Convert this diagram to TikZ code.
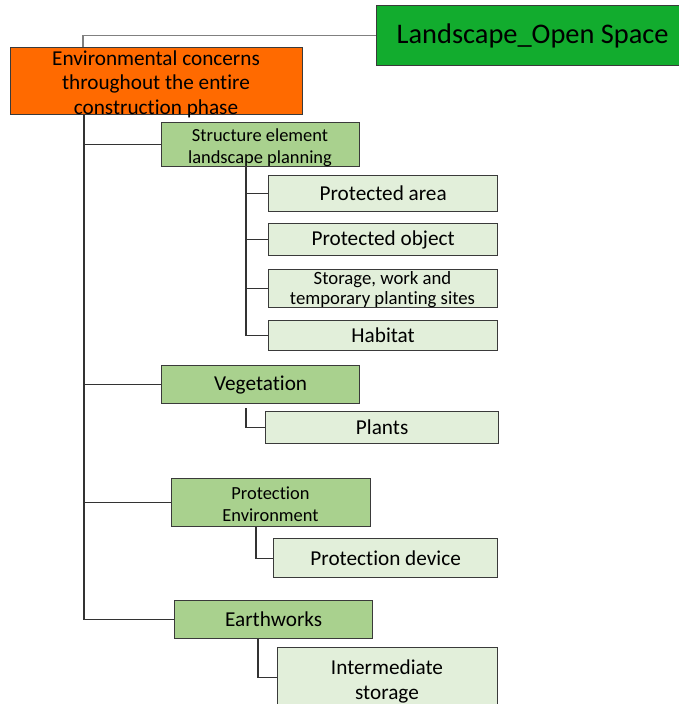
\documentclass[tikz,border=0pt]{standalone}
\usepackage{fontspec}
\setmainfont{Carlito}[Ligatures=NoCommon]
\usetikzlibrary{calc}
\definecolor{topgreen}{HTML}{12AC2E}
\definecolor{orangefill}{HTML}{FF6A00}
\definecolor{midgreen}{HTML}{A9D18E}
\definecolor{lightgreen}{HTML}{E2EFDA}
\definecolor{edgecol}{HTML}{3A3A3A}
\definecolor{linkdark}{HTML}{333333}
\definecolor{linkgray}{HTML}{808080}
\tikzset{
  box/.style={draw=edgecol, line width=1.3bp, inner sep=0pt, align=center,
              anchor=north west, text=black},
  rootbox/.style={box, fill=topgreen, font=\fontsize{28.5}{32}\selectfont},
  phasebox/.style={box, fill=orangefill},
  groupbox/.style={box, fill=midgreen, font=\fontsize{21.3}{24}\selectfont},
  leafbox/.style={box, fill=lightgreen, font=\fontsize{21.3}{24}\selectfont},
  boxtext/.style={align=center, inner sep=0pt, text=black},
  link/.style={draw=linkdark, line width=1.3bp},
  toplink/.style={draw=linkgray, line width=1.3bp},
}
\begin{document}
\begin{tikzpicture}[x=1bp, y=-1bp]
\useasboundingbox (0,0) rectangle (679,704);
\fill[white] (0,0) rectangle (679,704);
\clip (0,0) rectangle (679,704);

% root and phase box
\node[rootbox, minimum width=320bp, minimum height=60bp] (root) at (376,5) {Landscape\_Open Space\hspace*{8bp}};
\node[phasebox, minimum width=292bp, minimum height=67bp] (phase) at (10,47) {};
\node[boxtext, font=\fontsize{21.3}{24.5}\selectfont] (phasetxt) at (156,84)
  {Environmental concerns\\throughout the entire\\construction phase};

% first-level groups
\node[groupbox, minimum width=198bp, minimum height=44bp] (sel) at (161,122) {};
\node[boxtext, font=\fontsize{18.5}{21.5}\selectfont] (seltxt) at (260,147.5) {Structure element\\landscape planning};
\node[groupbox, minimum width=198bp, minimum height=38bp] (veg) at (161,365) {Vegetation};
\node[groupbox, minimum width=199bp, minimum height=48bp] (penv) at (171,478) {};
\node[boxtext, font=\fontsize{18.5}{22}\selectfont] (penvtxt) at (270.5,504) {Protection\\Environment};
\node[groupbox, minimum width=198bp, minimum height=38bp] (earth) at (174,600) {Earthworks};

% leaves
\node[leafbox, minimum width=229bp, minimum height=36bp] (parea) at (268,175) {Protected area};
\node[leafbox, minimum width=229bp, minimum height=32bp] (pobj) at (268,223) {Protected object};
\node[leafbox, minimum width=229bp, minimum height=38bp] (stor) at (268,269) {};
\node[boxtext, font=\fontsize{18.8}{20}\selectfont] (stortxt) at (382.5,290) {Storage, work and\\temporary planting sites};
\node[leafbox, minimum width=229bp, minimum height=30bp] (hab) at (268,320) {Habitat};
\node[leafbox, minimum width=233bp, minimum height=32bp] (plants) at (265,411) {Plants};
\node[leafbox, minimum width=224bp, minimum height=39bp] (pdev) at (273,538) {Protection device};
\node[leafbox, minimum width=220bp, minimum height=60bp] (inter) at (277,647) {};
\node[boxtext, font=\fontsize{21.3}{25}\selectfont] (intertxt) at (387,681) {Intermediate\\storage};

% connector columns
\coordinate (trunk) at (84,0);
\coordinate (colA) at (246,0);
\coordinate (colB) at (256,0);
\coordinate (colC) at (258,0);

% root to phase
\draw[toplink] (root.west) -| ($(phase.north west)+(73,0)$);

% trunk and first-level branches
\draw[link] (phase.south -| trunk) |- (earth.west);
\draw[link] (trunk |- sel.west) -- (sel.west);
\draw[link] (trunk |- veg.west) -- (veg.west);
\draw[link] (trunk |- penv.west) -- (penv.west);

% structure element leaves
\draw[link] (sel.south -| colA) |- (hab.west);
\draw[link] (colA |- parea.west) -- (parea.west);
\draw[link] (colA |- pobj.west) -- (pobj.west);
\draw[link] (colA |- stor.west) -- (stor.west);

% single-leaf groups
\draw[link] ($(veg.south -| colA)+(0,4)$) |- (plants.west);
\draw[link] (penv.south -| colB) |- (pdev.west);
\draw[link] (earth.south -| colC) |- (inter.west);
\end{tikzpicture}
\end{document}
